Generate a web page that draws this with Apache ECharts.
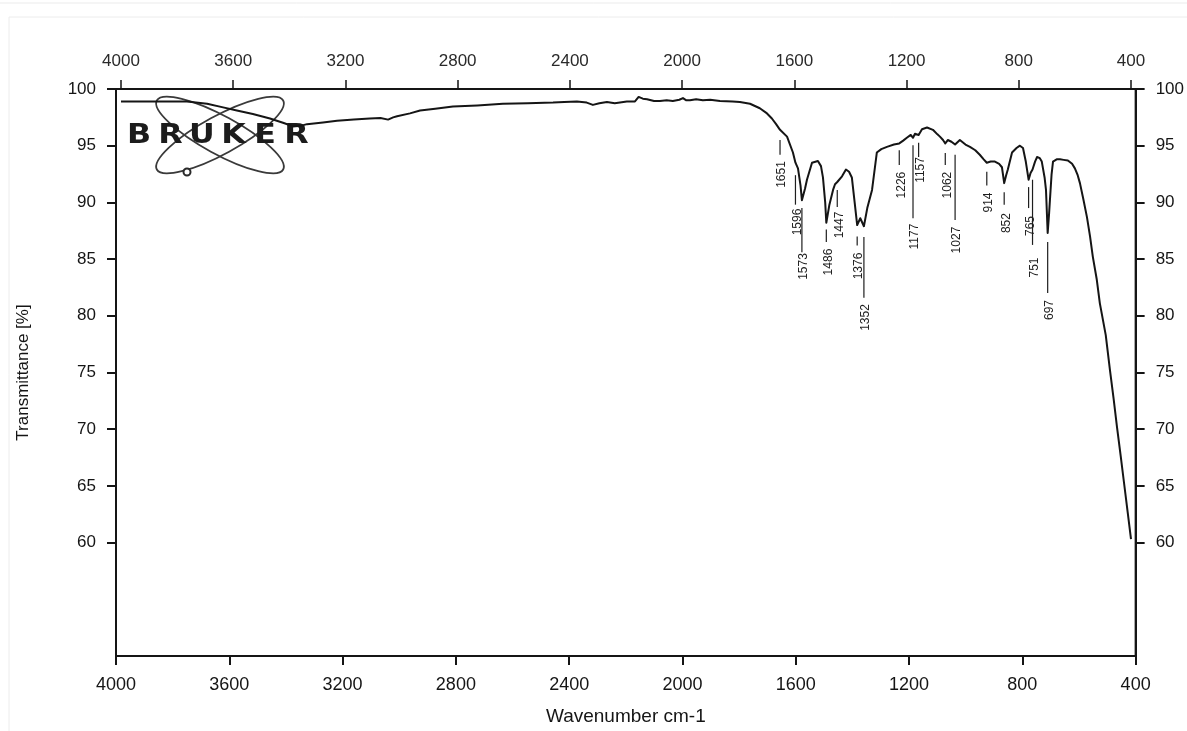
<!DOCTYPE html>
<html>
<head>
<meta charset="utf-8">
<title>IR spectrum</title>
<script src="https://cdn.jsdelivr.net/npm/echarts@6/dist/echarts.min.js"></script>
<style>
  html, body { margin: 0; padding: 0; background: #fff; }
  #chart { width: 1187px; height: 731px; }
</style>
</head>
<body>
<div id="chart"></div>
<script>
// spectrum trace: wavenumber (cm-1) and transmittance (%)
const wavenumbers = [
  4000, 3900, 3800, 3765, 3693, 3640, 3587, 3530, 3469, 3420, 3387, 3360, 3337, 3280, 3230, 3170,
  3113, 3075, 3048, 3030, 3016, 2970, 2934, 2880, 2817, 2730, 2639, 2550, 2460, 2420, 2375, 2340,
  2318, 2295, 2268, 2240, 2197, 2168, 2155, 2140, 2125, 2100, 2079, 2055, 2033, 2010, 1997, 1985,
  1972, 1950, 1926, 1900, 1865, 1820, 1794, 1758, 1723, 1700, 1680, 1665, 1651, 1626, 1605, 1596,
  1587, 1578, 1573, 1562, 1555, 1537, 1516, 1505, 1498, 1490, 1486, 1475, 1462, 1455, 1447, 1440,
  1430, 1416, 1405, 1395, 1385, 1376, 1365, 1352, 1340, 1323, 1306, 1290, 1270, 1245, 1226, 1212,
  1199, 1185, 1177, 1170, 1157, 1145, 1127, 1106, 1090, 1081, 1070, 1062, 1053, 1040, 1027, 1010,
  990, 974, 955, 939, 925, 914, 900, 885, 870, 860, 852, 845, 839, 824, 808, 796,
  785, 775, 765, 758, 751, 742, 735, 725, 718, 708, 703, 697, 692, 689, 683, 678,
  665, 653, 640, 625, 610, 600, 590, 582, 570, 557, 546, 536, 522, 511, 490, 475,
  462, 450, 437, 425, 412, 400
];
const transmittance = [
  98.9, 98.9, 98.9, 98.9, 98.7, 98.4, 98.1, 97.8, 97.4, 97.0, 96.7, 96.75, 96.9, 97.05, 97.2, 97.3,
  97.4, 97.45, 97.3, 97.5, 97.6, 97.85, 98.1, 98.25, 98.45, 98.55, 98.7, 98.75, 98.8, 98.85, 98.9, 98.8,
  98.6, 98.75, 98.85, 98.75, 98.9, 98.9, 99.3, 99.15, 99.1, 98.95, 98.95, 99.0, 98.95, 99.05, 99.2, 99.0,
  99.0, 99.1, 99.0, 99.05, 98.95, 98.9, 98.85, 98.7, 98.3, 97.9, 97.4, 96.9, 96.4, 95.8, 94.4, 93.5,
  93.0, 91.5, 90.2, 91.2, 92.0, 93.5, 93.65, 93.2, 92.2, 90.0, 88.2, 89.8, 91.1, 91.6, 91.8, 91.7,
  92.3, 92.9, 92.7, 92.2, 90.0, 88.0, 88.6, 87.9, 89.5, 91.1, 94.4, 94.7, 94.9, 95.1, 95.2, 95.45,
  95.7, 95.95, 95.7, 96.05, 95.95, 96.45, 96.6, 96.4, 96.0, 95.8, 95.5, 95.2, 95.5, 95.35, 95.1, 95.5,
  95.1, 94.9, 94.6, 94.2, 93.8, 93.5, 93.6, 93.6, 93.4, 93.1, 91.7, 92.4, 92.9, 94.4, 94.8, 95.0,
  94.8, 93.6, 92.0, 92.6, 92.9, 93.6, 94.0, 93.9, 93.6, 92.2, 91.1, 87.3, 89.0, 90.2, 92.5, 93.6,
  93.8, 93.8, 93.75, 93.7, 93.4, 93.0, 92.4, 91.7, 90.3, 88.7, 87.0, 85.2, 83.2, 81.1, 78.3, 75.2,
  72.7, 70.2, 67.7, 65.3, 62.7, 60.3
];

// labelled bands
const peakWavenumbers = [1651, 1596, 1573, 1486, 1447, 1376, 1352, 1226, 1177, 1157, 1062, 1027, 914, 852, 765, 751, 697];

// label placement for each band, in %T: [leader top, leader bottom, text centre]
const peakLabelLevels = [
  [95.5, 94.2, 92.46], [92.4, 89.8, 88.27], [89.5, 85.6, 84.35], [87.6, 86.5, 84.74],
  [91.1, 89.6, 88.01], [87.0, 86.2, 84.39], [86.95, 81.6, 79.85], [94.6, 93.3, 91.53],
  [95.05, 88.6, 86.99], [95.25, 94.0, 92.86], [94.35, 93.3, 91.53], [94.2, 88.45, 86.68],
  [92.7, 91.5, 89.99], [90.9, 89.8, 88.18], [91.35, 89.5, 87.92], [92.0, 86.25, 84.26],
  [86.5, 82.0, 80.51]
];

// axis ticks
const xTickValues = [4000, 3600, 3200, 2800, 2400, 2000, 1600, 1200, 800, 400];
const yTickValues = [60, 65, 70, 75, 80, 85, 90, 95, 100];

const FONT = "'Liberation Sans', Arial, Helvetica, sans-serif";
const INK = '#151515';
const plain = v => String(v);

const spectrum = wavenumbers.map((w, i) => [w, transmittance[i]]);
const peakData = peakWavenumbers.map((w, i) => [w, peakLabelLevels[i][2]]);

const chart = echarts.init(document.getElementById('chart'));

// Bruker logo: two crossed orbits, a dot and the spaced-out word
const logoLetters = 'BRUKER'.split('').map((ch, i) => ({
  type: 'text',
  x: 139 + i * 31.5,
  y: 136,
  scaleX: 1.22,
  style: {
    text: ch,
    fontSize: 26,
    fontWeight: 'bold',
    fontFamily: "'DejaVu Sans', sans-serif",
    fill: '#1c1c1c',
    align: 'center',
    verticalAlign: 'middle'
  }
}));

const option = {
  animation: false,
  backgroundColor: '#fff',
  graphic: [
    { type: 'line', silent: true, shape: { x1: 0, y1: 3, x2: 1187, y2: 3 }, style: { stroke: '#ebebeb', lineWidth: 1 } },
    { type: 'rect', silent: true, shape: { x: 9, y: 17, width: 1200, height: 800 }, style: { fill: 'none', stroke: '#ececec', lineWidth: 1 } },
    {
      type: 'group',
      silent: true,
      z: 1,
      children: [
        { type: 'ellipse', x: 220, y: 135, rotation: 0.5, shape: { cx: 0, cy: 0, rx: 72, ry: 19 }, style: { fill: 'none', stroke: '#3a3a3a', lineWidth: 1.8 } },
        { type: 'ellipse', x: 220, y: 135, rotation: -0.5, shape: { cx: 0, cy: 0, rx: 72, ry: 19 }, style: { fill: 'none', stroke: '#3a3a3a', lineWidth: 1.8 } },
        { type: 'circle', shape: { cx: 187, cy: 172, r: 3.5 }, style: { fill: '#fff', stroke: '#2a2a2a', lineWidth: 2 } }
      ].concat(logoLetters)
    }
  ],
  grid: [
    { left: 116, right: 51, top: 89, bottom: 75, show: true, borderColor: INK, borderWidth: 2 },
    { left: 121, right: 56, top: 89, bottom: 75 }
  ],
  xAxis: [
    {
      gridIndex: 0,
      type: 'value',
      position: 'bottom',
      inverse: true,
      min: 400,
      max: 4000,
      interval: 400,
      name: 'Wavenumber cm-1',
      nameLocation: 'middle',
      nameGap: 51,
      nameTextStyle: { fontSize: 19, color: INK, fontFamily: FONT },
      axisLine: { lineStyle: { color: INK, width: 2 } },
      axisTick: { customValues: xTickValues, length: 9, lineStyle: { color: INK, width: 2 } },
      axisLabel: { customValues: xTickValues, formatter: plain, margin: 20, fontSize: 18, color: INK, fontFamily: FONT },
      splitLine: { show: false }
    },
    {
      // the spectrometer's own scale printed along the top
      gridIndex: 1,
      type: 'value',
      position: 'top',
      inverse: true,
      min: 400,
      max: 4000,
      interval: 400,
      axisLine: { show: false },
      axisTick: { customValues: xTickValues, length: 9, lineStyle: { color: INK, width: 1.5 } },
      axisLabel: { customValues: xTickValues, formatter: plain, margin: 19, fontSize: 17, color: '#2a2a2a', fontFamily: FONT },
      splitLine: { show: false }
    }
  ],
  yAxis: [
    {
      gridIndex: 0,
      type: 'value',
      position: 'left',
      min: 50,
      max: 100,
      interval: 5,
      name: 'Transmittance [%]',
      nameLocation: 'middle',
      nameGap: 84,
      nameTextStyle: { fontSize: 17, color: INK, fontFamily: FONT },
      axisLine: { show: true, lineStyle: { color: INK, width: 2 } },
      axisTick: { show: true, customValues: yTickValues, length: 9, lineStyle: { color: INK, width: 2 } },
      axisLabel: { customValues: yTickValues, formatter: plain, margin: 20, fontSize: 17, color: INK, fontFamily: FONT },
      splitLine: { show: false }
    },
    {
      gridIndex: 0,
      type: 'value',
      position: 'right',
      min: 50,
      max: 100,
      interval: 5,
      axisLine: { show: true, lineStyle: { color: INK, width: 2 } },
      axisTick: { show: true, customValues: yTickValues, length: 9, lineStyle: { color: INK, width: 2 } },
      axisLabel: { customValues: yTickValues, formatter: plain, margin: 20, fontSize: 17, color: INK, fontFamily: FONT },
      splitLine: { show: false }
    },
    { gridIndex: 1, type: 'value', min: 50, max: 100, show: false }
  ],
  series: [
    {
      name: 'spectrum',
      type: 'line',
      xAxisIndex: 1,
      yAxisIndex: 2,
      data: spectrum,
      showSymbol: false,
      silent: true,
      z: 3,
      lineStyle: { color: INK, width: 2, join: 'round' }
    },
    {
      name: 'bands',
      type: 'custom',
      xAxisIndex: 1,
      yAxisIndex: 2,
      data: peakData,
      silent: true,
      z: 4,
      renderItem: (params, api) => {
        const i = params.dataIndex;
        const w = api.value(0);
        const lv = peakLabelLevels[i];
        const top = api.coord([w, lv[0]]);
        const bot = api.coord([w, lv[1]]);
        const mid = api.coord([w, lv[2]]);
        return {
          type: 'group',
          children: [
            {
              type: 'line',
              shape: { x1: top[0], y1: top[1], x2: bot[0], y2: bot[1] },
              style: { stroke: '#1e1e1e', lineWidth: 1.2 }
            },
            {
              type: 'text',
              x: mid[0] + 2,
              y: mid[1],
              rotation: Math.PI / 2,
              style: {
                text: String(peakWavenumbers[i]),
                fontSize: 12,
                fontFamily: FONT,
                fill: '#1e1e1e',
                align: 'center',
                verticalAlign: 'middle'
              }
            }
          ]
        };
      }
    }
  ]
};

chart.setOption(option);
window.addEventListener('resize', () => chart.resize());
</script>
</body>
</html>
